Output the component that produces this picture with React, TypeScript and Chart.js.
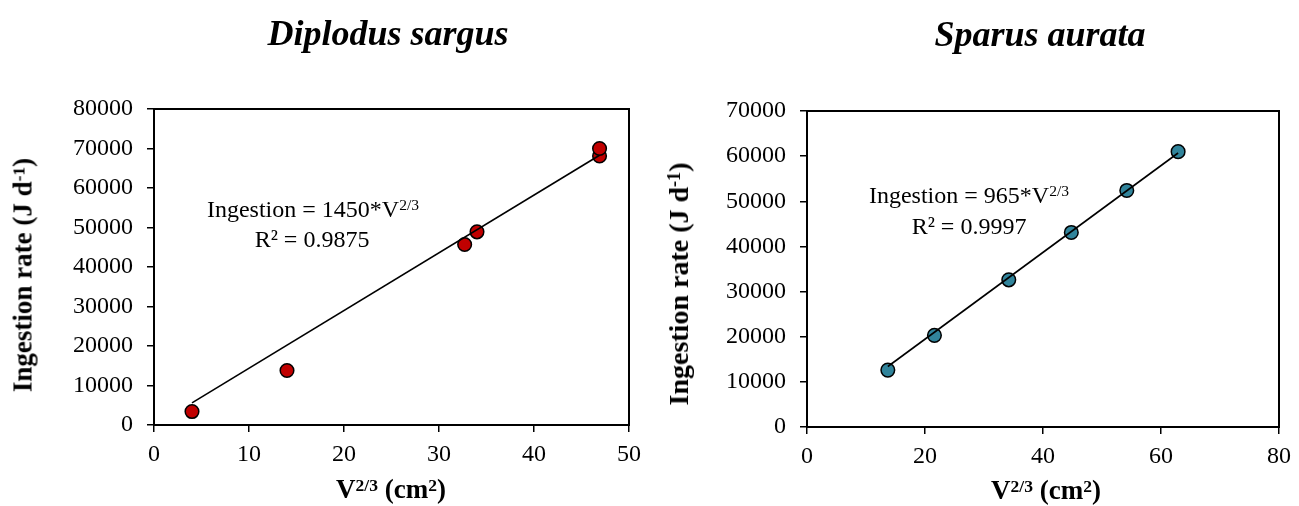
import React, { useEffect, useRef } from "react";
import { Chart, registerables } from "chart.js";

Chart.register(...registerables);

// ---------- Data ----------
const sargusX = [4.0, 14.0, 32.7, 34.0, 46.9, 46.9];
const sargusY = [3400, 13800, 45700, 48900, 68100, 70000];
const sargusTrendX = [4.0, 46.9];
const sargusTrendY = [5600, 68300];
const sargusXTicks = [0, 10, 20, 30, 40, 50];
const sargusYTicks = [0, 10000, 20000, 30000, 40000, 50000, 60000, 70000, 80000];

const aurataX = [13.7, 21.6, 34.2, 44.8, 54.2, 62.9];
const aurataY = [12600, 20300, 32600, 43100, 52400, 61000];
const aurataTrendX = [13.7, 62.9];
const aurataTrendY = [13400, 60700];
const aurataXTicks = [0, 20, 40, 60, 80];
const aurataYTicks = [0, 10000, 20000, 30000, 40000, 50000, 60000, 70000];

const sargusTitle = "Diplodus sargus";
const aurataTitle = "Sparus aurata";
const sargusEq = "1450";
const sargusR2 = "0.9875";
const aurataEq = "965";
const aurataR2 = "0.9997";

const SERIF = "'Liberation Serif', 'Times New Roman', Times, serif";

const framePlugin = {
  id: "frame",
  afterDraw(chart: any) {
    const { ctx, chartArea } = chart;
    ctx.save();
    ctx.strokeStyle = "#000";
    ctx.lineWidth = 2;
    ctx.strokeRect(
      chartArea.left,
      chartArea.top,
      chartArea.right - chartArea.left,
      chartArea.bottom - chartArea.top
    );
    ctx.restore();
  },
};

type ChartProps = {
  offsetX: number;
  w: number;
  h: number;
  area: { left: number; top: number; right: number; bottom: number };
  px: number[];
  py: number[];
  tx: number[];
  ty: number[];
  color: string;
  xTicks: number[];
  yTicks: number[];
};

function ScatterPanel(p: ChartProps) {
  const ref = useRef<HTMLCanvasElement>(null);
  useEffect(() => {
    const tickFont = { family: SERIF, size: 24, weight: "normal" as const };
    const chart = new Chart(ref.current!, {
      type: "scatter",
      data: {
        datasets: [
          {
            type: "line",
            label: "trend",
            data: p.tx.map((x, i) => ({ x, y: p.ty[i] })),
            borderColor: "#000",
            borderWidth: 1.6,
            pointRadius: 0,
            showLine: true,
            fill: false,
          } as any,
          {
            type: "scatter",
            label: "data",
            data: p.px.map((x, i) => ({ x, y: p.py[i] })),
            backgroundColor: p.color,
            borderColor: "#000",
            borderWidth: 1.5,
            pointRadius: 6.8,
            pointHoverRadius: 6.8,
          } as any,
        ],
      },
      options: {
        animation: false,
        responsive: false,
        events: [],
        layout: {
          padding: { left: 0, top: p.area.top, right: p.w - p.area.right, bottom: 0 },
        },
        plugins: { legend: { display: false }, tooltip: { enabled: false } },
        scales: {
          x: {
            type: "linear",
            position: "bottom",
            min: p.xTicks[0],
            max: p.xTicks[p.xTicks.length - 1],
            afterBuildTicks: (s: any) => {
              s.ticks = p.xTicks.map((v) => ({ value: v }));
            },
            afterFit: (s: any) => {
              s.height = p.h - p.area.bottom;
            },
            ticks: {
              font: tickFont,
              color: "#000",
              padding: 8,
              maxRotation: 0,
              autoSkip: false,
              callback: (v: any) => String(v),
            },
            grid: {
              display: true,
              drawOnChartArea: false,
              drawTicks: true,
              tickLength: 7,
              color: "#000",
              lineWidth: 1.5,
            },
            border: { display: true, color: "#000", width: 2 },
          },
          y: {
            type: "linear",
            position: "left",
            min: p.yTicks[0],
            max: p.yTicks[p.yTicks.length - 1],
            afterBuildTicks: (s: any) => {
              s.ticks = p.yTicks.map((v) => ({ value: v }));
            },
            afterFit: (s: any) => {
              s.width = p.area.left;
            },
            ticks: {
              font: tickFont,
              color: "#000",
              padding: 14,
              autoSkip: false,
              callback: (v: any) => String(v),
            },
            grid: {
              display: true,
              drawOnChartArea: false,
              drawTicks: true,
              tickLength: 7,
              color: "#000",
              lineWidth: 1.5,
            },
            border: { display: true, color: "#000", width: 2 },
          },
        },
      } as any,
      plugins: [framePlugin],
    });
    return () => chart.destroy();
  }, []);
  return (
    <canvas
      ref={ref}
      width={p.w}
      height={p.h}
      style={{ position: "absolute", left: p.offsetX, top: 0, width: p.w, height: p.h }}
    />
  );
}

const supStyle: React.CSSProperties = {
  fontSize: "0.65em",
  position: "relative",
  top: "-0.42em",
  verticalAlign: "baseline",
  lineHeight: 0,
};

function HText(props: {
  cx: number;
  baseline: number;
  size: number;
  bold?: boolean;
  italic?: boolean;
  children: React.ReactNode;
}) {
  const { cx, baseline, size, bold, italic, children } = props;
  return (
    <div
      style={{
        position: "absolute",
        left: cx,
        top: baseline - 0.8375 * size,
        transform: "translateX(-50%)",
        fontFamily: SERIF,
        fontSize: size,
        lineHeight: `${size}px`,
        fontWeight: bold ? "bold" : "normal",
        fontStyle: italic ? "italic" : "normal",
        whiteSpace: "nowrap",
        color: "#000",
      }}
    >
      {children}
    </div>
  );
}

function VText(props: { cx: number; cy: number; size: number; children: React.ReactNode }) {
  const { cx, cy, size, children } = props;
  return (
    <div
      style={{
        position: "absolute",
        left: cx,
        top: cy,
        transform: "translate(-50%, -50%) rotate(-90deg)",
        fontFamily: SERIF,
        fontSize: size,
        lineHeight: `${size}px`,
        fontWeight: "bold",
        whiteSpace: "nowrap",
        color: "#000",
      }}
    >
      {children}
    </div>
  );
}

const YTitle = () => (
  <>
    Ingestion rate (J d<span style={supStyle}>-1</span>)
  </>
);
const XTitle = () => (
  <>
    V<span style={supStyle}>2/3</span> (cm<span style={supStyle}>2</span>)
  </>
);

export default function App() {
  return (
    <div
      style={{
        position: "absolute",
        left: 0,
        top: 0,
        width: 1299,
        height: 506,
        background: "#fff",
        overflow: "hidden",
      }}
    >
      <ScatterPanel
        offsetX={0}
        w={650}
        h={506}
        area={{ left: 154, top: 109, right: 629, bottom: 425 }}
        px={sargusX}
        py={sargusY}
        tx={sargusTrendX}
        ty={sargusTrendY}
        color="#C00000"
        xTicks={sargusXTicks}
        yTicks={sargusYTicks}
      />
      <ScatterPanel
        offsetX={650}
        w={649}
        h={506}
        area={{ left: 157, top: 111, right: 636, bottom: 427 }}
        px={aurataX}
        py={aurataY}
        tx={aurataTrendX}
        ty={aurataTrendY}
        color="#31849B"
        xTicks={aurataXTicks}
        yTicks={aurataYTicks}
      />

      <HText cx={388} baseline={45} size={36} bold italic>
        {sargusTitle}
      </HText>
      <HText cx={1040} baseline={46} size={36} bold italic>
        {aurataTitle}
      </HText>

      <VText cx={22.6} cy={275} size={27}>
        <YTitle />
      </VText>
      <VText cx={678.5} cy={284} size={28}>
        <YTitle />
      </VText>

      <HText cx={391} baseline={499} size={27} bold>
        <XTitle />
      </HText>
      <HText cx={1046} baseline={500} size={27} bold>
        <XTitle />
      </HText>

      <HText cx={313} baseline={217} size={24}>
        Ingestion = {sargusEq}*V<span style={supStyle}>2/3</span>
      </HText>
      <HText cx={312} baseline={247} size={24}>
        R² = {sargusR2}
      </HText>
      <HText cx={969} baseline={203} size={24}>
        Ingestion = {aurataEq}*V<span style={supStyle}>2/3</span>
      </HText>
      <HText cx={969} baseline={234} size={24}>
        R² = {aurataR2}
      </HText>
    </div>
  );
}
